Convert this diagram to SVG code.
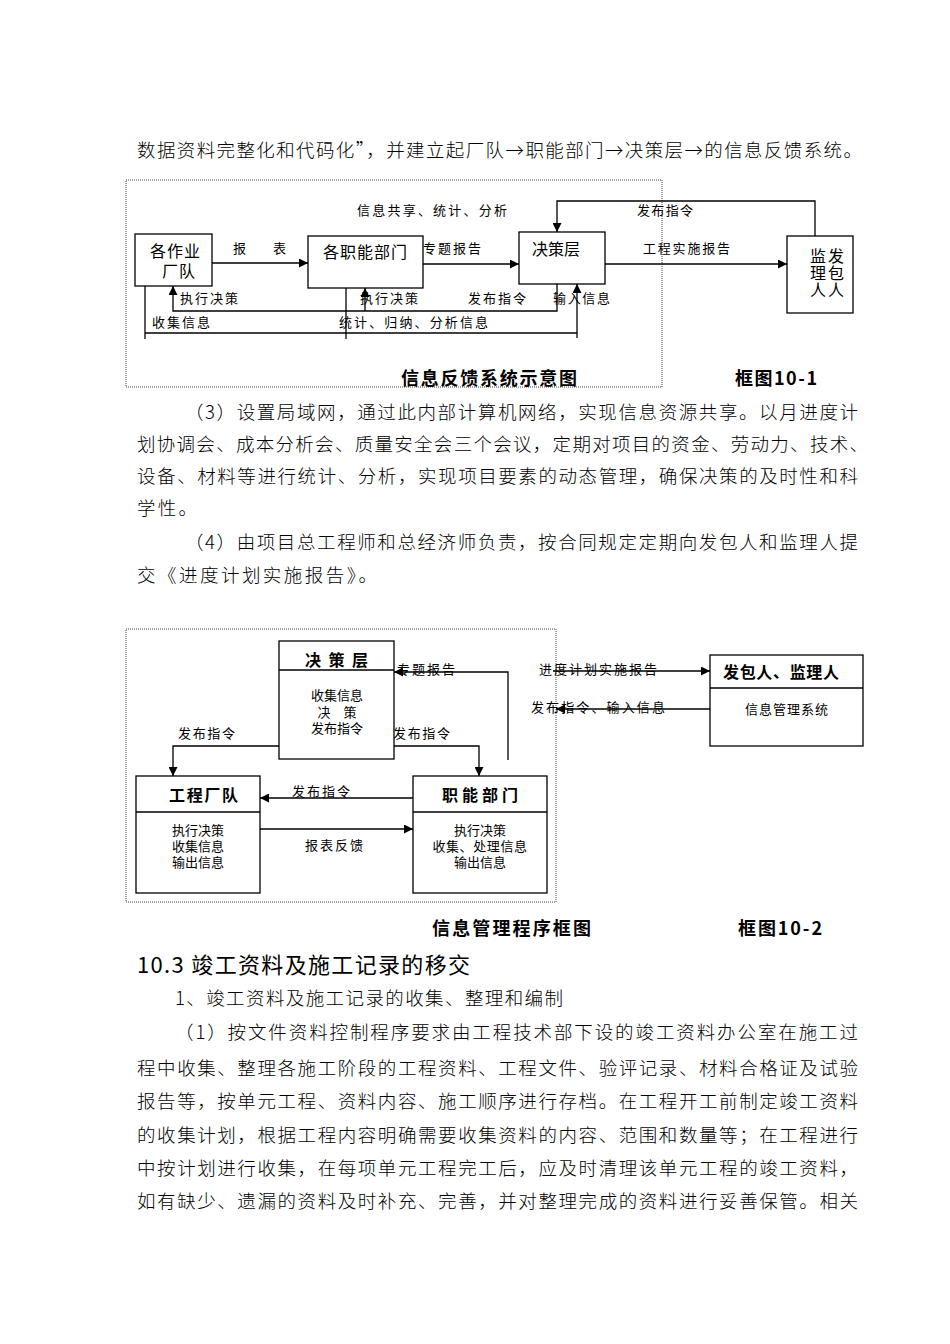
<svg xmlns="http://www.w3.org/2000/svg" width="950" height="1344" viewBox="0 0 950 1344">
<style>
text{font-family:"Noto Sans CJK SC","Liberation Sans",sans-serif;fill:#000}
text.st{font-family:"Liberation Sans","Noto Sans CJK SC",sans-serif}
.body{font-size:18.5px;font-weight:300}
.h{font-size:22px}
.lb{font-size:13px}
.nd{font-size:16px}
.vt{font-size:16px;writing-mode:vertical-rl;letter-spacing:1px}
.bd{font-size:16px;font-weight:bold}
.cap{font-size:18px;font-weight:bold}
.box{fill:#fff;stroke:#000;stroke-width:1.3}
.frame{fill:none;stroke:#444;stroke-width:1;stroke-dasharray:1 1}
.ln{fill:none;stroke:#000;stroke-width:1.3}
.ar{fill:none;stroke:#000;stroke-width:1.3;marker-end:url(#ah)}
</style>
<defs>
<marker id="ah" viewBox="0 0 10 10" refX="10" refY="5" markerWidth="9" markerHeight="9" markerUnits="userSpaceOnUse" orient="auto">
<path d="M0,0 L10,5 L0,10 z" fill="#000"/>
</marker>
</defs>
<rect width="950" height="1344" fill="#fff"/>

<g id="text-top">
<text class="body" x="137" y="157" textLength="725" lengthAdjust="spacing">数据资料完整化和代码化”，并建立起厂队→职能部门→决策层→的信息反馈系统。</text>
</g>

<!-- Diagram 1 -->
<rect class="frame" x="126" y="180" width="536" height="207"/>
<g id="d1-connectors">
<path class="ar" d="M212,263 H308"/>
<path class="ar" d="M423,264 H519"/>
<path class="ar" d="M605,264 H787"/>
<path class="ar" d="M815,236 V201 H557 V232"/>
<path class="ar" d="M557,284 V311 H173 V286"/>
<path class="ar" d="M365,311 V288"/>
<path class="ln" d="M145,286 V339"/>
<path class="ln" d="M145,333 H577"/>
<path class="ar" d="M577,338 V284"/>
<path class="ln" d="M346,288 V339"/>
<text class="lb" x="357" y="215" textLength="150" lengthAdjust="spacing">信息共享、统计、分析</text>
<text class="lb" x="637" y="215" textLength="56" lengthAdjust="spacing">发布指令</text>
<text class="lb" x="233" y="253">报</text>
<text class="lb" x="273" y="253">表</text>
<text class="lb" x="423" y="253" textLength="58" lengthAdjust="spacing">专题报告</text>
<text class="lb" x="643" y="253" textLength="87" lengthAdjust="spacing">工程实施报告</text>
<text class="lb" x="180" y="303" textLength="58" lengthAdjust="spacing">执行决策</text>
<text class="lb" x="360" y="303" textLength="58" lengthAdjust="spacing">执行决策</text>
<text class="lb" x="468" y="303" textLength="58" lengthAdjust="spacing">发布指令</text>
<text class="lb" x="553" y="303" textLength="57" lengthAdjust="spacing">输入信息</text>
<text class="lb" x="152" y="327" textLength="58" lengthAdjust="spacing">收集信息</text>
<text class="lb" x="339" y="327" textLength="149" lengthAdjust="spacing">统计、归纳、分析信息</text>
</g>
<g id="d1-team">
<rect class="box" x="135" y="234" width="77" height="52"/>
<text class="nd st" x="150" y="257" letter-spacing="1">各作业<tspan x="162" y="277">厂队</tspan></text>
</g>
<g id="d1-dept">
<rect class="box" x="308" y="236" width="115" height="52"/>
<text class="nd" x="323" y="258" textLength="84" lengthAdjust="spacing">各职能部门</text>
</g>
<g id="d1-decision">
<rect class="box" x="519" y="232" width="86" height="52"/>
<text class="nd" x="532" y="255" textLength="48" lengthAdjust="spacing">决策层</text>
</g>
<g id="d1-client">
<rect class="box" x="787" y="236" width="66" height="77"/>
<text class="vt" x="818" y="248">监理人</text>
<text class="vt" x="836" y="248">发包人</text>
</g>
<g id="d1-caption">
<text class="cap" x="401" y="385" textLength="176" lengthAdjust="spacing">信息反馈系统示意图</text>
<text class="cap" x="735" y="385" textLength="82" lengthAdjust="spacing">框图10-1</text>
</g>

<g id="text-mid">
<text class="body" x="185" y="419" textLength="673" lengthAdjust="spacing">（3）设置局域网，通过此内部计算机网络，实现信息资源共享。以月进度计</text>
<text class="body" x="137" y="451" textLength="731" lengthAdjust="spacing">划协调会、成本分析会、质量安全会三个会议，定期对项目的资金、劳动力、技术、</text>
<text class="body" x="137" y="483" textLength="721" lengthAdjust="spacing">设备、材料等进行统计、分析，实现项目要素的动态管理，确保决策的及时性和科</text>
<text class="body" x="137" y="515" textLength="60" lengthAdjust="spacing">学性。</text>
<text class="body" x="185" y="549" textLength="673" lengthAdjust="spacing">（4）由项目总工程师和总经济师负责，按合同规定定期向发包人和监理人提</text>
<text class="body" x="137" y="582" textLength="240" lengthAdjust="spacing">交《进度计划实施报告》。</text>
</g>

<!-- Diagram 2 -->
<rect class="frame" x="126" y="629" width="430" height="273"/>
<g id="d2-connectors">
<path class="ar" d="M508,760 V672 H394"/>
<path class="ar" d="M279,746 H173 V776"/>
<path class="ar" d="M394,746 H479 V776"/>
<path class="ar" d="M413,798 H260"/>
<path class="ar" d="M260,829 H413"/>
<path class="ar" d="M553,671 H710"/>
<path class="ar" d="M710,709 H556"/>
<text class="lb" x="397" y="674" textLength="58" lengthAdjust="spacing">专题报告</text>
<text class="lb" x="178" y="738" textLength="57" lengthAdjust="spacing">发布指令</text>
<text class="lb" x="393" y="738" textLength="57" lengthAdjust="spacing">发布指令</text>
<text class="lb" x="292" y="796" textLength="58" lengthAdjust="spacing">发布指令</text>
<text class="lb" x="305" y="850" textLength="58" lengthAdjust="spacing">报表反馈</text>
<text class="lb" x="539" y="674" textLength="118" lengthAdjust="spacing">进度计划实施报告</text>
<text class="lb" x="531" y="712" textLength="134" lengthAdjust="spacing">发布指令、输入信息</text>
</g>
<g id="d2-decision">
<rect class="box" x="279" y="641" width="115" height="118"/>
<path class="ln" d="M279,670 H394"/>
<text class="bd" x="305" y="666" textLength="63" lengthAdjust="spacing">决策层</text>
<text class="lb st" x="337" y="700" text-anchor="middle">收集信息<tspan x="337" y="717">决　策</tspan><tspan x="337" y="733">发布指令</tspan></text>
</g>
<g id="d2-team">
<rect class="box" x="136" y="776" width="124" height="117"/>
<path class="ln" d="M136,812 H260"/>
<text class="bd" x="169" y="801" textLength="69" lengthAdjust="spacing">工程厂队</text>
<text class="lb st" x="198" y="835" text-anchor="middle">执行决策<tspan x="198" y="851">收集信息</tspan><tspan x="198" y="867">输出信息</tspan></text>
</g>
<g id="d2-dept">
<rect class="box" x="413" y="776" width="134" height="117"/>
<path class="ln" d="M413,812 H547"/>
<text class="bd" x="442" y="801" textLength="76" lengthAdjust="spacing">职能部门</text>
<text class="lb st" x="480" y="835" text-anchor="middle">执行决策<tspan x="480" y="851" letter-spacing="0.6">收集、处理信息</tspan><tspan x="480" y="867">输出信息</tspan></text>
</g>
<g id="d2-client">
<rect class="box" x="710" y="655" width="153" height="91"/>
<path class="ln" d="M710,688 H863"/>
<text class="bd" x="723" y="678" textLength="116" lengthAdjust="spacing">发包人、监理人</text>
<text class="lb" x="745" y="714" textLength="83" lengthAdjust="spacing">信息管理系统</text>
</g>
<g id="d2-caption">
<text class="cap" x="432" y="935" textLength="159" lengthAdjust="spacing">信息管理程序框图</text>
<text class="cap" x="738" y="935" textLength="84" lengthAdjust="spacing">框图10-2</text>
</g>

<g id="text-bottom">
<text class="h" x="137" y="973" textLength="333" lengthAdjust="spacing">10.3 竣工资料及施工记录的移交</text>
<text class="body" x="175" y="1005" textLength="388" lengthAdjust="spacing">1、竣工资料及施工记录的收集、整理和编制</text>
<text class="body" x="175" y="1039" textLength="683" lengthAdjust="spacing">（1）按文件资料控制程序要求由工程技术部下设的竣工资料办公室在施工过</text>
<text class="body" x="137" y="1075" textLength="721" lengthAdjust="spacing">程中收集、整理各施工阶段的工程资料、工程文件、验评记录、材料合格证及试验</text>
<text class="body" x="137" y="1108" textLength="721" lengthAdjust="spacing">报告等，按单元工程、资料内容、施工顺序进行存档。在工程开工前制定竣工资料</text>
<text class="body" x="137" y="1142" textLength="721" lengthAdjust="spacing">的收集计划，根据工程内容明确需要收集资料的内容、范围和数量等；在工程进行</text>
<text class="body" x="137" y="1175" textLength="721" lengthAdjust="spacing">中按计划进行收集，在每项单元工程完工后，应及时清理该单元工程的竣工资料，</text>
<text class="body" x="137" y="1208" textLength="721" lengthAdjust="spacing">如有缺少、遗漏的资料及时补充、完善，并对整理完成的资料进行妥善保管。相关</text>
</g>
</svg>
